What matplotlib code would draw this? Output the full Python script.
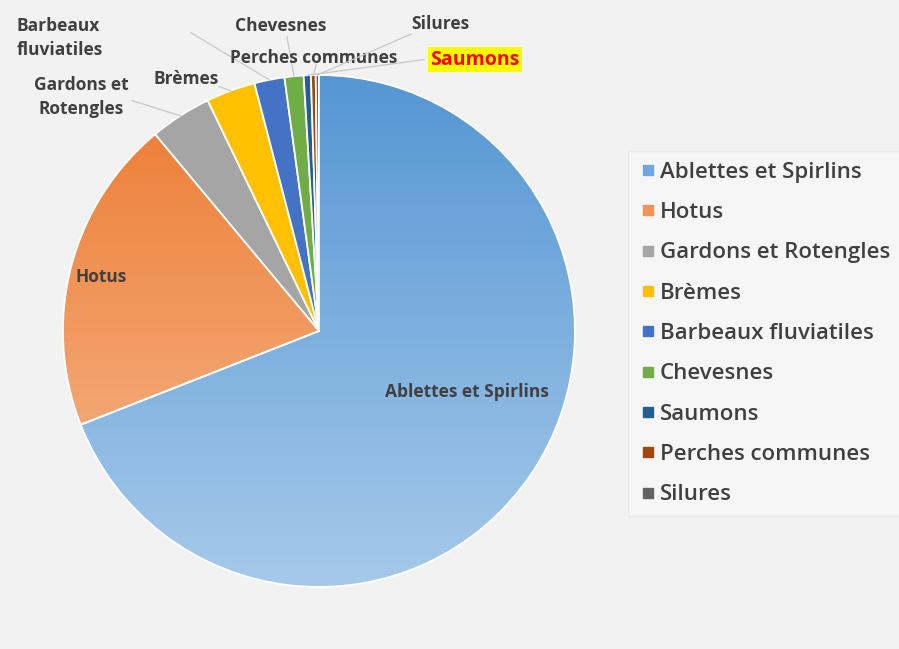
import numpy as np
import matplotlib
matplotlib.use('Agg')
import matplotlib.pyplot as plt
from matplotlib.colors import LinearSegmentedColormap
from matplotlib.lines import Line2D

# Species, in the pie's clockwise order (starting at 12 o'clock)
species = ['Ablettes et Spirlins', 'Hotus', 'Gardons et Rotengles', 'Brèmes',
           'Barbeaux fluviatiles', 'Chevesnes', 'Saumons', 'Perches communes', 'Silures']
shares = [69.0, 19.9, 3.9, 3.1, 1.9, 1.2, 0.45, 0.3, 0.2]

colors = ['#6fa8dc', '#f0955a', '#a5a5a5', '#ffc000', '#4472c4',
          '#70ad47', '#255e91', '#9e480e', '#636363']
# vertical gradients (top, bottom) for the two big slices
gradients = {0: ('#5596d3', '#a6c9ea'), 1: ('#ec7a2f', '#f6bb93')}

# outside labels: text, text position, leader start (pie units), alignment
outside = {
    'Gardons et Rotengles': ('Gardons et\nRotengles', (-0.93, 0.915), (-0.73, 0.90), 'center'),
    'Brèmes': ('Brèmes', (-0.52, 0.985), (-0.39, 0.955), 'center'),
    'Barbeaux fluviatiles': ('Barbeaux\nfluviatiles', (-1.18, 1.145), (-0.50, 1.165), 'left'),
    'Chevesnes': ('Chevesnes', (-0.15, 1.19), (-0.125, 1.15), 'center'),
    'Perches communes': ('Perches communes', (-0.02, 1.065), (-0.01, 1.04), 'center'),
    'Silures': ('Silures', (0.475, 1.20), (0.36, 1.16), 'center'),
    'Saumons': ('Saumons', (0.61, 1.06), (0.41, 1.06), 'center'),
}

plt.rcParams['font.family'] = ['Open Sans', 'DejaVu Sans']
text_color = '#404040'

fig = plt.figure(figsize=(8.99, 6.49), dpi=100, facecolor='#f2f2f2')
ax = fig.add_axes([0.070, 0.0955, 0.5695, 0.789])
ax.set_facecolor('#f2f2f2')

wedges, _ = ax.pie(shares, colors=colors, startangle=90, counterclock=False,
                   wedgeprops=dict(edgecolor='white', linewidth=1.3))

# gradient fill for the two large slices
grad = np.linspace(1, 0, 256).reshape(-1, 1)
for i, (top, bottom) in gradients.items():
    cmap = LinearSegmentedColormap.from_list('g%d' % i, [bottom, top])
    im = ax.imshow(grad, extent=(-1, 1, -1, 1), cmap=cmap, aspect='auto',
                   origin='upper', zorder=1, vmin=0, vmax=1)
    im.set_clip_path(wedges[i])
    wedges[i].set_facecolor('none')
    wedges[i].set_zorder(2)

ax.set_xlim(-1.0, 1.0)
ax.set_ylim(-1.0, 1.0)
ax.set_aspect('equal')
ax.axis('off')

# labels inside the big slices
ax.text(0.58, -0.24, species[0], ha='center', va='center', fontsize=12.5,
        fontweight='bold', color=text_color, zorder=5)
ax.text(-0.85, 0.21, species[1], ha='center', va='center', fontsize=12.5,
        fontweight='bold', color=text_color, zorder=5)

# outside labels with leader lines
for i, w in enumerate(wedges):
    name = species[i]
    if name not in outside:
        continue
    txt, pos, start, align = outside[name]
    mid = np.deg2rad((w.theta1 + w.theta2) / 2)
    ax.plot([start[0], np.cos(mid)], [start[1], np.sin(mid)], color='#c8c8c8',
            lw=0.9, zorder=3, clip_on=False)
    if name == 'Saumons':
        ax.text(pos[0], pos[1], txt, ha='center', va='center', fontsize=14,
                fontweight='bold', color='#ff0000', clip_on=False,
                bbox=dict(facecolor='#ffff00', edgecolor='none', pad=2))
    else:
        ax.text(pos[0], pos[1], txt, ha=align, va='center', fontsize=12.5,
                fontweight='bold', color=text_color, linespacing=1.45,
                multialignment=align, clip_on=False)

handles = [Line2D([], [], marker='s', linestyle='none', markersize=7,
                  markerfacecolor=c, markeredgecolor=c) for c in colors]
leg = fig.legend(handles, species, loc='upper left', bbox_to_anchor=(0.698, 0.768),
                 frameon=True, fontsize=16, labelspacing=0.87, handletextpad=0.15,
                 handlelength=0.8, borderpad=0.5, borderaxespad=0.0, fancybox=False)
leg.get_frame().set_facecolor('#f8f8f8')
leg.get_frame().set_edgecolor('#e8e8e8')
for t in leg.get_texts():
    t.set_color(text_color)
    t.set_fontweight('semibold')

fig.savefig('out.png', dpi=100, facecolor=fig.get_facecolor())
